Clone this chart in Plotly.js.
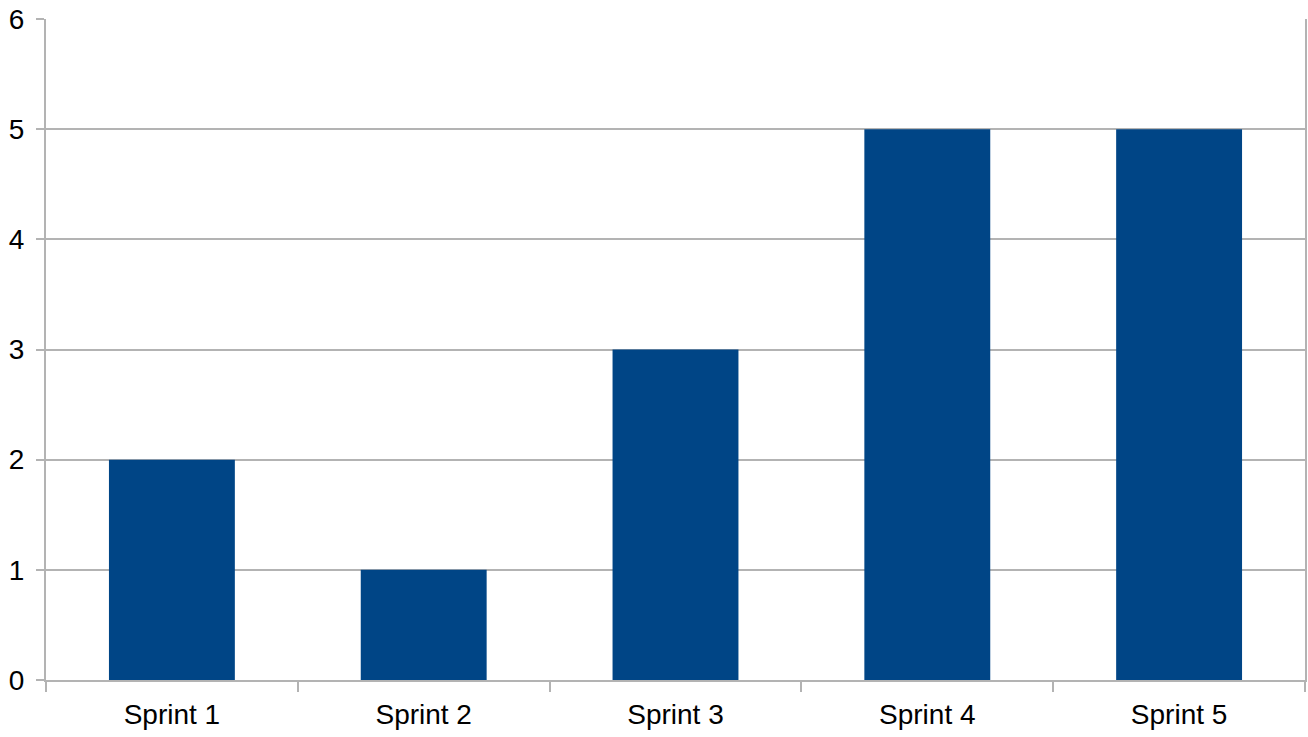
<!DOCTYPE html>
<html>
<head>
<meta charset="utf-8">
<script src="https://cdn.plot.ly/plotly-3.0.1.min.js"></script>
<style>html,body{margin:0;padding:0;background:#fff;}#chart{width:1308px;height:737px;}</style>
</head>
<body>
<div id="chart"></div>
<script>
const categories = ["Sprint 1", "Sprint 2", "Sprint 3", "Sprint 4", "Sprint 5"];
const values = [2, 1, 3, 5, 5];
const yTicks = [0, 1, 2, 3, 4, 5, 6];

const trace = {
  type: "bar",
  x: categories,
  y: values,
  marker: {color: "#004586"},
  hoverinfo: "x+y"
};

const layout = {
  width: 1308,
  height: 737,
  margin: {l: 46, r: 3, t: 19, b: 57},
  paper_bgcolor: "#ffffff",
  plot_bgcolor: "#ffffff",
  bargap: 0.5,
  showlegend: false,
  font: {family: "Liberation Sans, Arial, sans-serif", size: 28, color: "#000000"},
  xaxis: {
    type: "category",
    range: [-0.5, 4.5],
    showgrid: false,
    showline: true,
    linecolor: "#b3b3b3",
    linewidth: 2,
    ticks: "outside",
    tickson: "boundaries",
    ticklen: 10,
    tickwidth: 2,
    tickcolor: "#b3b3b3",
    tickfont: {size: 28},
    ticklabelstandoff: 8,
    zeroline: false,
    fixedrange: true
  },
  yaxis: {
    range: [0, 6],
    tickvals: yTicks,
    showgrid: true,
    gridcolor: "#b3b3b3",
    gridwidth: 2,
    showline: true,
    mirror: true,
    linecolor: "#b3b3b3",
    linewidth: 2,
    ticks: "outside",
    ticklen: 8,
    tickwidth: 2,
    tickcolor: "#b3b3b3",
    tickfont: {size: 28},
    ticklabelstandoff: 6,
    zeroline: false,
    fixedrange: true
  }
};

Plotly.newPlot("chart", [trace], layout, {displayModeBar: false, staticPlot: true});
</script>
</body>
</html>
